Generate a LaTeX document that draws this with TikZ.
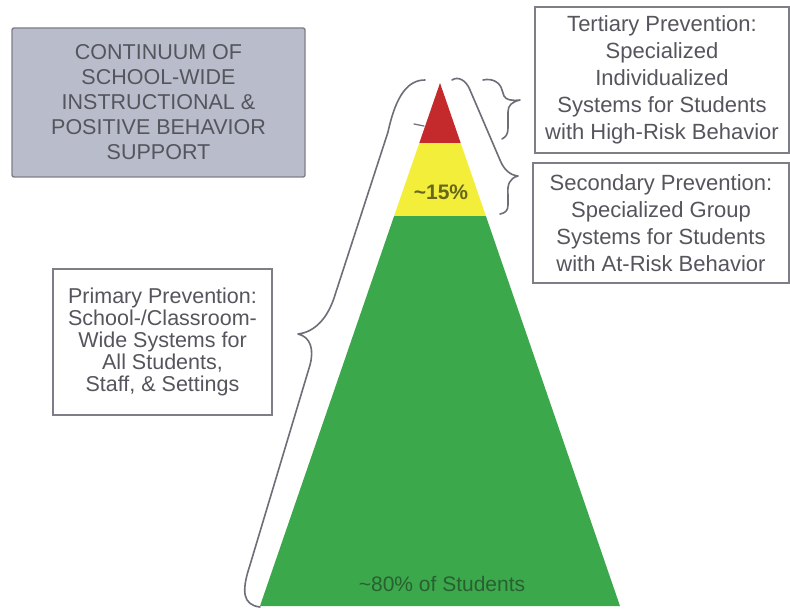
\documentclass[tikz,border=0pt]{standalone}
\usepackage{fontspec}
\setmainfont{Liberation Sans}
\begin{document}
\begin{tikzpicture}[x=1pt,y=-1pt,
  boxline/.style={draw=boxgray, line width=1.4pt},
  infobox/.style={boxline, fill=white, align=center, text=txtgray, inner sep=0pt},
  bracestyle/.style={draw=bracegray, line width=1.6pt, line cap=round, line join=round},
  ]
\definecolor{boxgray}{HTML}{7E7E88}
\definecolor{bracegray}{HTML}{6E6E78}
\definecolor{txtgray}{HTML}{55555D}
\definecolor{titlefill}{HTML}{B9BCCB}
\definecolor{tred}{HTML}{C42A2C}
\definecolor{tyellow}{HTML}{F3EE3A}
\definecolor{tgreen}{HTML}{3CA84C}
\definecolor{yeltxt}{HTML}{66661E}
\definecolor{grntxt}{HTML}{286030}
\useasboundingbox (0,0) rectangle (790,609);
\fill[white] (0,0) rectangle (790,609);

% triangle
\coordinate (apex) at (440,83);
\coordinate (rl) at (419.3,143);
\coordinate (rr) at (460.7,143);
\coordinate (yl) at (394.1,216);
\coordinate (yr) at (485.9,216);
\coordinate (bl) at (260,606);
\coordinate (br) at (620,606);
\fill[tgreen] (yl) -- (yr) -- (br) -- (bl) -- cycle;
\fill[tyellow] (rl) -- (rr) -- (yr) -- (yl) -- cycle;
\fill[tred] (apex) -- (rr) -- (rl) -- cycle;

\node[text=yeltxt, font=\fontsize{21}{24}\selectfont\bfseries] (p15) at (441,192) {\textasciitilde15\%};
\node[text=grntxt, font=\fontsize{21}{24}\selectfont] (p80) at (442,584) {\textasciitilde80\% of Students};

% title box
\node[draw=boxgray, line width=1.4pt, fill=titlefill, rounded corners=2pt, minimum width=293pt, minimum height=149pt,
      align=center, text=txtgray, inner sep=0pt,
      font=\fontsize{21.5}{25}\selectfont] (title) at (158.5,102.5)
  {CONTINUUM OF\\SCHOOL-WIDE\\INSTRUCTIONAL \&\\POSITIVE BEHAVIOR\\SUPPORT};

% info boxes
\node[infobox, minimum width=254pt, minimum height=146pt, font=\fontsize{22}{27}\selectfont] (tert) at (662,80)
  {Tertiary Prevention:\\Specialized\\Individualized\\Systems for Students\\with High-Risk Behavior};
\node[infobox, minimum width=256pt, minimum height=120pt, font=\fontsize{22}{27}\selectfont] (sec) at (661,223)
  {Secondary Prevention:\\Specialized Group\\Systems for Students\\with At-Risk Behavior};
\node[infobox, minimum width=219pt, minimum height=146pt, font=\fontsize{21.5}{22}\selectfont] (prim) at (162.5,342)
  {Primary Prevention:\\School-/Classroom-\\Wide Systems for\\All Students,\\Staff, \& Settings};

% big left brace
\draw[bracestyle] (425,80) .. controls (408,80) and (396,95) .. (388,132)
  -- (335,295) .. controls (328,318) and (315,332) .. (298,334)
  .. controls (311,337) and (314,350) .. (310,365)
  -- (250,565) .. controls (241,592) and (243,605) .. (260,607);

% small tick on red
\draw[bracestyle, line width=1.2pt] (414,124) -- (424,126);

% secondary brace
\draw[bracestyle] (452,80) .. controls (458,76) and (466,80) .. (470,90)
  -- (500,160) .. controls (504,170) and (510,175) .. (518,176)
  .. controls (510,178) and (507,184) .. (508,195)
  -- (508,205) .. controls (508,211) and (505,213) .. (500,214);

% tertiary brace
\draw[bracestyle] (483,80) .. controls (492,78) and (500,82) .. (502,90)
  -- (504,96) .. controls (506,100) and (512,101) .. (520,100)
  .. controls (512,102) and (508,105) .. (508,112)
  -- (508,128) .. controls (508,134) and (506,137) .. (502,139);
\end{tikzpicture}
\end{document}
